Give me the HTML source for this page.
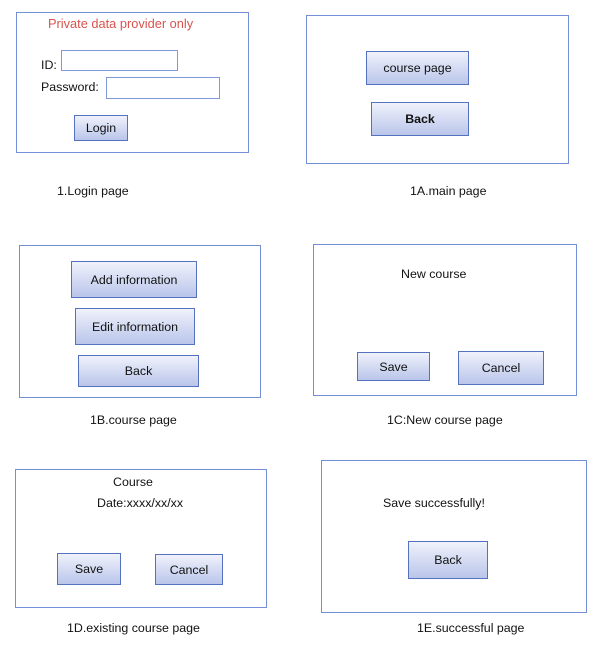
<!DOCTYPE html>
<html><head><meta charset="utf-8"><style>
body{margin:0;width:597px;height:655px;background:#fff;position:relative;overflow:hidden;font-family:"Liberation Sans",sans-serif;font-size:12.4px;color:#111}
.b{position:absolute;border:1.5px solid #7390d6;box-sizing:border-box}
.in{position:absolute;border:1.5px solid #7f9ad8;box-sizing:border-box}
.btn{position:absolute;border:1.5px solid #5572c0;box-sizing:border-box;background:linear-gradient(#f0f2fb,#b9c5ea);display:flex;align-items:center;justify-content:center}
.t{position:absolute;white-space:nowrap}
</style></head><body>
<div class="b" style="left:16px;top:12px;width:233px;height:141px"></div>
<div class="t" style="left:48px;top:16px;color:#d9534f;font-size:12.8px">Private data provider only</div>
<div class="t" style="left:41px;top:58px">ID:</div>
<div class="in" style="left:61px;top:50px;width:117px;height:21px"></div>
<div class="t" style="left:41px;top:80px">Password:</div>
<div class="in" style="left:106px;top:77px;width:114px;height:22px"></div>
<div class="btn" style="left:74px;top:115px;width:54px;height:26px">Login</div>
<div class="t" style="left:57px;top:184px">1.Login page</div>

<div class="b" style="left:306px;top:15px;width:263px;height:149px"></div>
<div class="btn" style="left:366px;top:51px;width:103px;height:34px">course page</div>
<div class="btn" style="left:371px;top:102px;width:98px;height:34px;font-weight:bold">Back</div>
<div class="t" style="left:410px;top:184px">1A.main page</div>

<div class="b" style="left:19px;top:245px;width:242px;height:153px"></div>
<div class="btn" style="left:71px;top:261px;width:126px;height:37px">Add information</div>
<div class="btn" style="left:75px;top:308px;width:120px;height:37px">Edit information</div>
<div class="btn" style="left:78px;top:355px;width:121px;height:32px">Back</div>
<div class="t" style="left:90px;top:413px">1B.course page</div>

<div class="b" style="left:313px;top:244px;width:264px;height:152px"></div>
<div class="t" style="left:401px;top:267px">New course</div>
<div class="btn" style="left:357px;top:352px;width:73px;height:29px">Save</div>
<div class="btn" style="left:458px;top:351px;width:86px;height:34px">Cancel</div>
<div class="t" style="left:387px;top:413px">1C:New course page</div>

<div class="b" style="left:15px;top:469px;width:252px;height:139px"></div>
<div class="t" style="left:113px;top:475px">Course</div>
<div class="t" style="left:97px;top:496px">Date:xxxx/xx/xx</div>
<div class="btn" style="left:57px;top:553px;width:64px;height:32px">Save</div>
<div class="btn" style="left:155px;top:554px;width:68px;height:31px">Cancel</div>
<div class="t" style="left:67px;top:621px">1D.existing course page</div>

<div class="b" style="left:321px;top:460px;width:266px;height:153px"></div>
<div class="t" style="left:383px;top:496px">Save successfully!</div>
<div class="btn" style="left:408px;top:541px;width:80px;height:38px">Back</div>
<div class="t" style="left:417px;top:621px">1E.successful page</div>
</body></html>
